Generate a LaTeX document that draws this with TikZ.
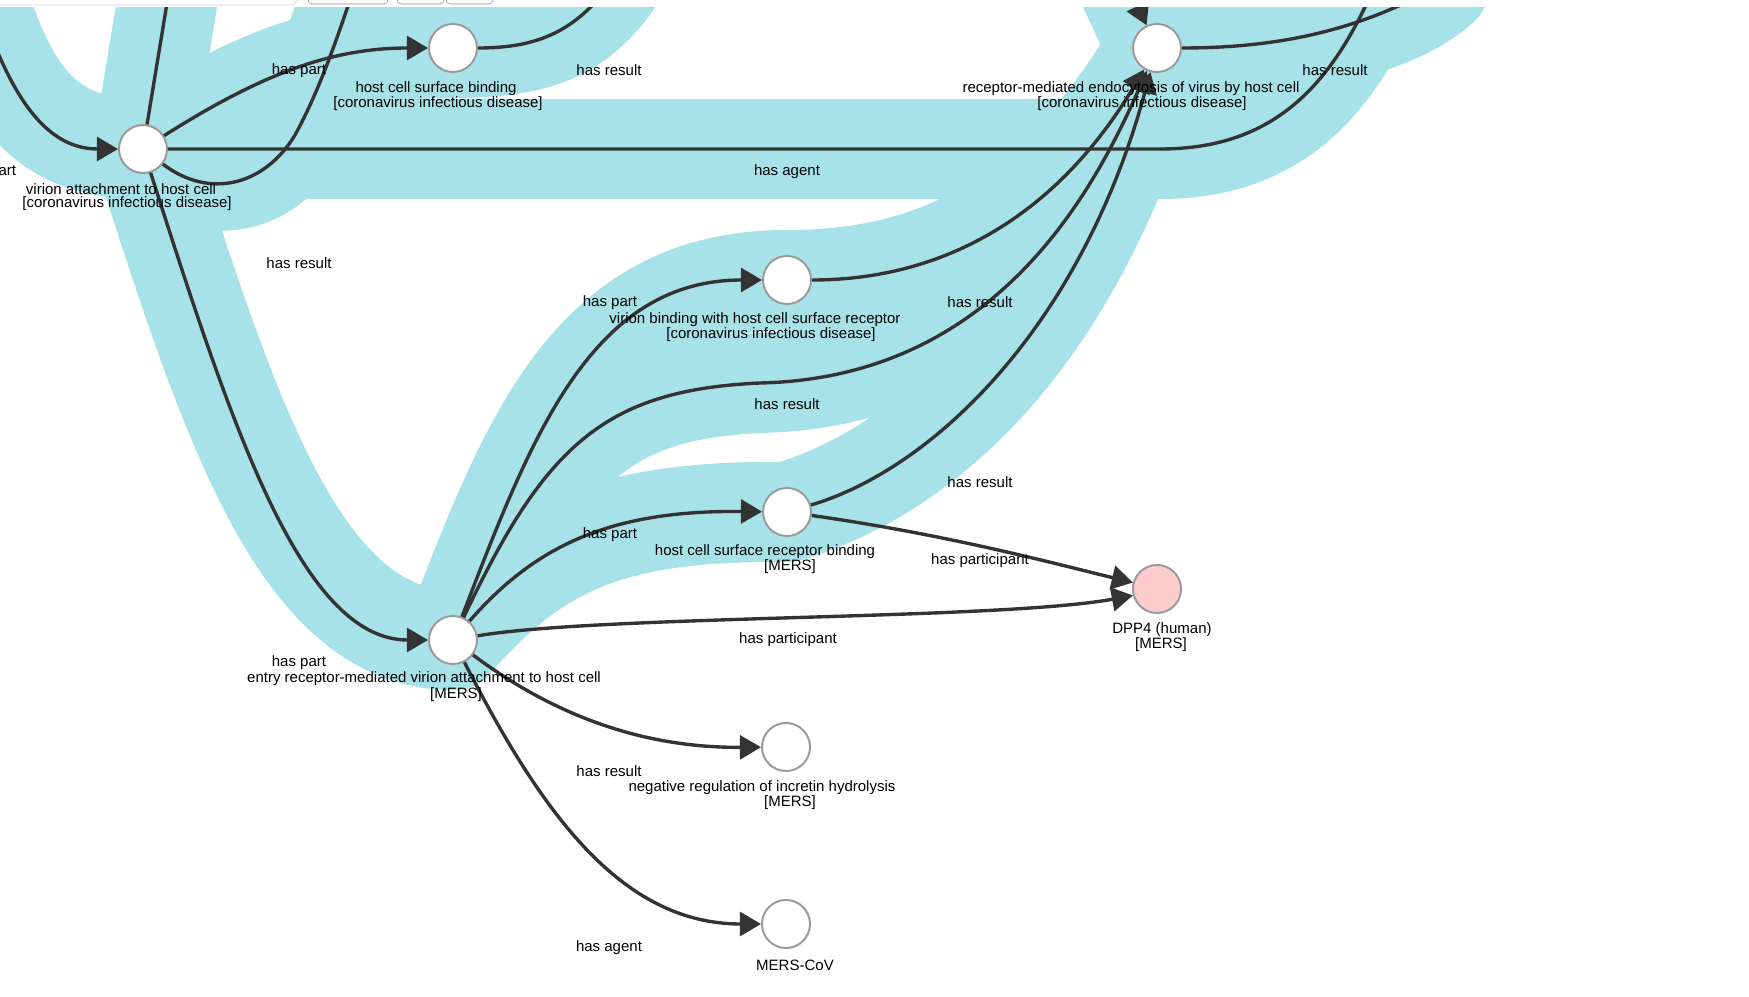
\documentclass[tikz,border=0pt]{standalone}
\usepackage{fontspec}
\setmainfont{Liberation Sans}
\usetikzlibrary{arrows.meta,backgrounds}
\definecolor{hilite}{RGB}{166,226,232}
\definecolor{edgegray}{RGB}{51,51,51}
\definecolor{ringgray}{RGB}{153,153,153}
\definecolor{dpppink}{RGB}{255,204,204}

\begin{document}
\begin{tikzpicture}[x=0.025cm,y=-0.025cm,
		ent/.style={circle,draw=ringgray,line width=1.4pt,fill=white,minimum size=1.2cm,inner sep=0pt},
		tie/.style={draw=edgegray,line width=2.4pt},
		rel/.style={tie,-{Triangle[length=15pt,width=17pt]}},
		band/.style={draw=hilite,line width=2.5cm,line cap=round},
		elbl/.style={inner sep=0pt,font=\fontsize{10.67}{10.67}\selectfont}]
	\useasboundingbox (0,0) rectangle (1749,997);
	\clip (0,0) rectangle (1749,997);

	\node[ent] (n1) at (143,149) {};
	\node[ent] (n2) at (453,48) {};
	\node[ent] (n3) at (1157,48) {};
	\node[ent] (n4) at (787,280) {};
	\node[ent] (n5) at (787,512) {};
	\node[ent] (n6) at (453,640) {};
	\node[ent,fill=dpppink] (n7) at (1157,589) {};
	\node[ent] (n8) at (786,747) {};
	\node[ent] (n9) at (786,924) {};

	\coordinate (o1) at (-20,5);
	\coordinate (o2) at (170,-15);
	\coordinate (o3) at (355,-15);
	\coordinate (o4) at (610,-15);
	\coordinate (o5) at (1375,-15);
	\coordinate (o6) at (1128,-15);
	\coordinate (o7) at (1440,-15);

	\begin{pgfonlayer}{background}
		\draw[band] (o1) .. controls (10,95) and (45,149) .. (n1.center);
		\draw[band] (o2) -- (n1.center);
		\draw[band] (n1.center) .. controls (260,75) and (330,48) .. (n2.center);
		\draw[band] (n2.center) .. controls (540,48) and (575,30) .. (o4);
		\draw[band] (n1.center) .. controls (210,200) and (265,185) .. (295,135) .. controls (320,90) and (340,30) .. (o3);
		\draw[band] (n1.center) -- (1160,149) .. controls (1270,149) and (1330,90) .. (o5);
		\draw[band] (n1.center) .. controls (230,420) and (300,640) .. (n6.center);
		\draw[band] (n6.center) .. controls (530,440) and (590,280) .. (n4.center);
		\draw[band] (n6.center) .. controls (545,445) and (605,390) .. (760,383) .. controls (990,378) and (1090,200) .. (n3.center);
		\draw[band] (n6.center) .. controls (535,546) and (610,510) .. (n5.center);
		\draw[band] (n4.center) .. controls (950,280) and (1060,210) .. (n3.center);
		\draw[band] (n5.center) .. controls (930,470) and (1080,330) .. (n3.center);
		\draw[band] (n3.center) .. controls (1290,48) and (1390,30) .. (o7);
		\draw[band] (o6) -- (n3.center);
	\end{pgfonlayer}

	\draw[rel] (o1) .. controls (10,95) and (45,149) .. (n1);
	\draw[tie] (n1) -- (o2);
	\draw[rel] (n1) .. controls (260,75) and (330,48) .. (n2);
	\draw[tie] (n2) .. controls (540,48) and (575,30) .. (o4);
	\draw[tie] (n1) .. controls (210,200) and (265,185) .. (295,135) .. controls (320,90) and (340,30) .. (o3);
	\draw[tie] (n1) -- (1160,149) .. controls (1270,149) and (1330,90) .. (o5);
	\draw[rel] (n1) .. controls (230,420) and (300,640) .. (n6);
	\draw[rel] (n6) .. controls (530,440) and (590,280) .. (n4);
	\draw[rel] (n6) .. controls (545,445) and (605,390) .. (760,383) .. controls (990,378) and (1090,200) .. (n3);
	\draw[rel] (n6) .. controls (535,546) and (610,510) .. (n5);
	\draw[rel] (n4) .. controls (950,280) and (1060,210) .. (n3);
	\draw[rel] (n5) .. controls (930,470) and (1080,330) .. (n3);
	\draw[rel] (n5) .. controls (950,535) and (1060,565) .. (n7.165);
	\draw[rel] (n6) .. controls (600,615) and (1000,620) .. (n7.195);
	\draw[rel] (n6) .. controls (560,720) and (650,748) .. (n8);
	\draw[rel] (n6) .. controls (540,810) and (620,924) .. (n9);
	\draw[tie] (n3) .. controls (1280,48) and (1360,30) .. (o7);
	\draw[rel] (o6) -- (n3);

	\node[elbl] (p1) at (-11,172) {has part};
	\node[elbl] (p2) at (299,71) {has part};
	\node[elbl] (r1) at (609,70) {has result};
	\node[elbl] (r2) at (1335,70) {has result};
	\node[elbl] (a1) at (787,172) {has agent};
	\node[elbl] (r3) at (299,263) {has result};
	\node[elbl] (p3) at (610,303) {has part};
	\node[elbl] (r4) at (980,302) {has result};
	\node[elbl] (r5) at (787,404) {has result};
	\node[elbl] (r6) at (980,482) {has result};
	\node[elbl] (p4) at (610,535) {has part};
	\node[elbl] (q1) at (980,561) {has participant};
	\node[elbl] (q2) at (788,640) {has participant};
	\node[elbl] (p5) at (299,663) {has part};
	\node[elbl] (r7) at (609,771) {has result};
	\node[elbl] (a2) at (609,948) {has agent};

	\node[elbl] (l1a) at (121,189) {virion attachment to host cell};
	\node[elbl] (l1b) at (127,204) {[coronavirus infectious disease]};
	\node[elbl] (l2a) at (436,89) {host cell surface binding};
	\node[elbl] (l2b) at (438,104) {[coronavirus infectious disease]};
	\node[elbl] (l3a) at (1131,89) {receptor-mediated endocytosis of virus by host cell};
	\node[elbl] (l3b) at (1142,104) {[coronavirus infectious disease]};
	\node[elbl] (l4a) at (755,320) {virion binding with host cell surface receptor};
	\node[elbl] (l4b) at (771,335) {[coronavirus infectious disease]};
	\node[elbl] (l5a) at (765,552) {host cell surface receptor binding};
	\node[elbl] (l5b) at (790,567) {[MERS]};
	\node[elbl] (l6a) at (424,679) {entry receptor-mediated virion attachment to host cell};
	\node[elbl] (l6b) at (456,695) {[MERS]};
	\node[elbl] (l7a) at (1162,630) {DPP4 (human)};
	\node[elbl] (l7b) at (1161,645) {[MERS]};
	\node[elbl] (l8a) at (762,788) {negative regulation of incretin hydrolysis};
	\node[elbl] (l8b) at (790,803) {[MERS]};
	\node[elbl] (l9) at (795,965) {MERS-CoV};

	\fill[white] (0,-20) rectangle (1749,7);
	\draw[black!18,fill=white,rounded corners=4] (-10,-20) rectangle (297,5);
	\draw[black!45,fill=white,rounded corners=3] (308,-20) rectangle (388,4);
	\draw[black!45,fill=white,rounded corners=3] (397,-20) rectangle (444,4);
	\draw[black!45,fill=white,rounded corners=3] (446,-20) rectangle (493,4);
\end{tikzpicture}
\end{document}
